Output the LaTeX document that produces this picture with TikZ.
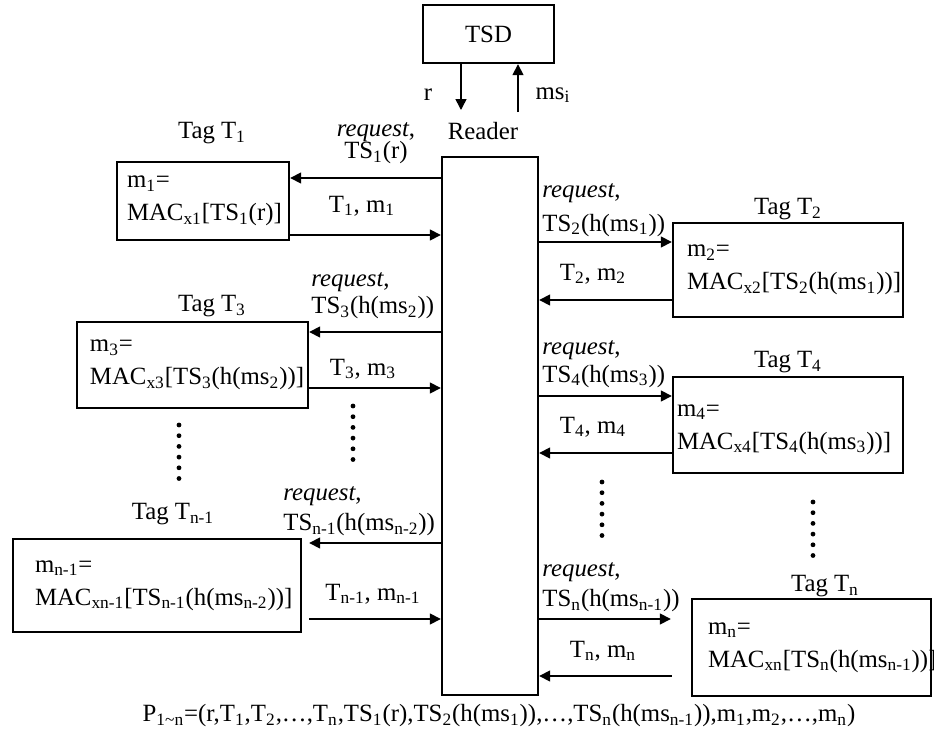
\documentclass[tikz,border=0pt]{standalone}
\usepackage{fontspec}
\setmainfont{Liberation Serif}
\usetikzlibrary{arrows.meta}
\newcommand{\sbs}[1]{\textsubscript{#1}}

\begin{document}
\begin{tikzpicture}[x=0.5pt, y=-0.5pt,
  font=\fontsize{12.4}{13.8}\selectfont,
  >={Triangle[length=5.5pt,width=5.5pt]},
  box/.style={draw, line width=1.2pt, inner sep=0pt},
  tagbox/.style={draw, line width=1.2pt, align=left, inner ysep=0pt, font=\fontsize{12.4}{16.5}\selectfont},
  lbl/.style={inner sep=0pt, align=left},
  msg/.style={->, line width=0.8pt}]
\useasboundingbox (0,0) rectangle (934,744);

% server and reader
\node[box, minimum width=65.5pt, minimum height=29pt] (tsd) at (488.5,34) {TSD};
\node[box, minimum width=48pt, minimum height=269pt] (reader) at (490,426) {};
\node[lbl] (readerlbl) at (483,131) {Reader};
\coordinate (rend) at (461,110);
\coordinate (msstart) at (518,112);
\draw[msg] (tsd.south -| rend) -- (rend);
\draw[msg] (msstart) -- (tsd.south -| msstart);
\node[lbl] (rlbl) at (428,95) {r};
\node[lbl] (mslbl) at (553,95) {ms\sbs{i}};

% tags
\node[tagbox, inner xsep=5pt, text width=76pt, minimum height=39pt] (tag1) at (203,201) {m\sbs{1}=\\MAC\sbs{x1}[TS\sbs{1}(r)]};
\node[tagbox, inner xsep=7pt, text width=101pt, minimum height=47pt] (tag2) at (788,270) {m\sbs{2}=\\MAC\sbs{x2}[TS\sbs{2}(h(ms\sbs{1}))]};
\node[tagbox, inner xsep=6.5pt, text width=102.5pt, minimum height=43pt] (tag3) at (192.5,365) {m\sbs{3}=\\MAC\sbs{x3}[TS\sbs{3}(h(ms\sbs{2}))]};
\node[tagbox, inner xsep=2pt, text width=111pt, minimum height=48pt] (tag4) at (788,425) {\\[-6pt]m\sbs{4}=\\MAC\sbs{x4}[TS\sbs{4}(h(ms\sbs{3}))]};
\node[tagbox, inner xsep=11pt, text width=122pt, minimum height=46.5pt] (tagn1) at (157,585.5) {m\sbs{n-1}=\\MAC\sbs{xn-1}[TS\sbs{n-1}(h(ms\sbs{n-2}))]};
\node[tagbox, inner xsep=8pt, text width=103.5pt, minimum height=48.5pt] (tagn) at (811.5,647.5) {m\sbs{n}=\\MAC\sbs{xn}[TS\sbs{n}(h(ms\sbs{n-1}))]};

\node[lbl] (name1) at (212,133) {Tag T\sbs{1}};
\node[lbl] (name2) at (788,209) {Tag T\sbs{2}};
\node[lbl] (name3) at (212,306) {Tag T\sbs{3}};
\node[lbl] (name4) at (788,362) {Tag T\sbs{4}};
\node[lbl] (namen1) at (173,514) {Tag T\sbs{n-1}};
\node[lbl] (namen) at (825,586) {Tag T\sbs{n}};

% messages
\draw[msg] (reader.west |- 0,178) -- (tag1.east |- 0,178);
\draw[msg] (tag1.east |- 0,235) -- (reader.west |- 0,235);
\draw[msg] (reader.east |- 0,242) -- (tag2.west |- 0,242);
\draw[msg] (tag2.west |- 0,300) -- (reader.east |- 0,300);
\draw[msg] (reader.west |- 0,332) -- (tag3.east |- 0,332);
\draw[msg] (tag3.east |- 0,388) -- (reader.west |- 0,388);
\draw[msg] (reader.east |- 0,396) -- (tag4.west |- 0,396);
\draw[msg] (tag4.west |- 0,453) -- (reader.east |- 0,453);
\draw[msg, shorten >=3.5pt] (reader.west |- 0,543) -- (tagn1.east |- 0,543);
\draw[msg, shorten <=3.5pt] (tagn1.east |- 0,619) -- (reader.west |- 0,619);
\draw[msg, shorten >=10pt] (reader.east |- 0,619) -- (tagn.west |- 0,619);
\draw[msg, shorten <=9.5pt] (tagn.west |- 0,676) -- (reader.east |- 0,676);

\node[lbl, align=center] (req1) at (376,143) {\textit{request},\\[-2.5pt]TS\sbs{1}(r)};
\node[lbl, anchor=west] (req2) at (542,210) {\textit{request},\\[3pt]TS\sbs{2}(h(ms\sbs{1}))};
\node[lbl, anchor=west] (req3) at (311,295.5) {\textit{request},\\TS\sbs{3}(h(ms\sbs{2}))};
\node[lbl, anchor=west] (req4) at (542,364) {\textit{request},\\TS\sbs{4}(h(ms\sbs{3}))};
\node[lbl, anchor=west] (reqn1) at (283,511) {\textit{request},\\[1.5pt]TS\sbs{n-1}(h(ms\sbs{n-2}))};
\node[lbl, anchor=west] (reqn) at (542,587) {\textit{request},\\[1.5pt]TS\sbs{n}(h(ms\sbs{n-1}))};

\node[lbl] (rep1) at (362,206) {T\sbs{1}, m\sbs{1}};
\node[lbl] (rep2) at (593,274) {T\sbs{2}, m\sbs{2}};
\node[lbl] (rep3) at (363,369) {T\sbs{3}, m\sbs{3}};
\node[lbl] (rep4) at (593,427) {T\sbs{4}, m\sbs{4}};
\node[lbl] (repn1) at (373,594) {T\sbs{n-1}, m\sbs{n-1}};
\node[lbl] (repn) at (603,651) {T\sbs{n}, m\sbs{n}};

% dots
\foreach \x/\y in {179/425, 353/406, 602/482, 813/502}
  \foreach \k in {0,...,5}
    \fill (\x,{\y+\k*10.7}) circle (1.2pt);

\node[lbl] (summary) at (499,716) {P\sbs{1\textasciitilde n}=(r,T\sbs{1},T\sbs{2},\ldots,T\sbs{n},TS\sbs{1}(r),TS\sbs{2}(h(ms\sbs{1})),\ldots,TS\sbs{n}(h(ms\sbs{n-1})),m\sbs{1},m\sbs{2},\ldots,m\sbs{n})};
\end{tikzpicture}
\end{document}
